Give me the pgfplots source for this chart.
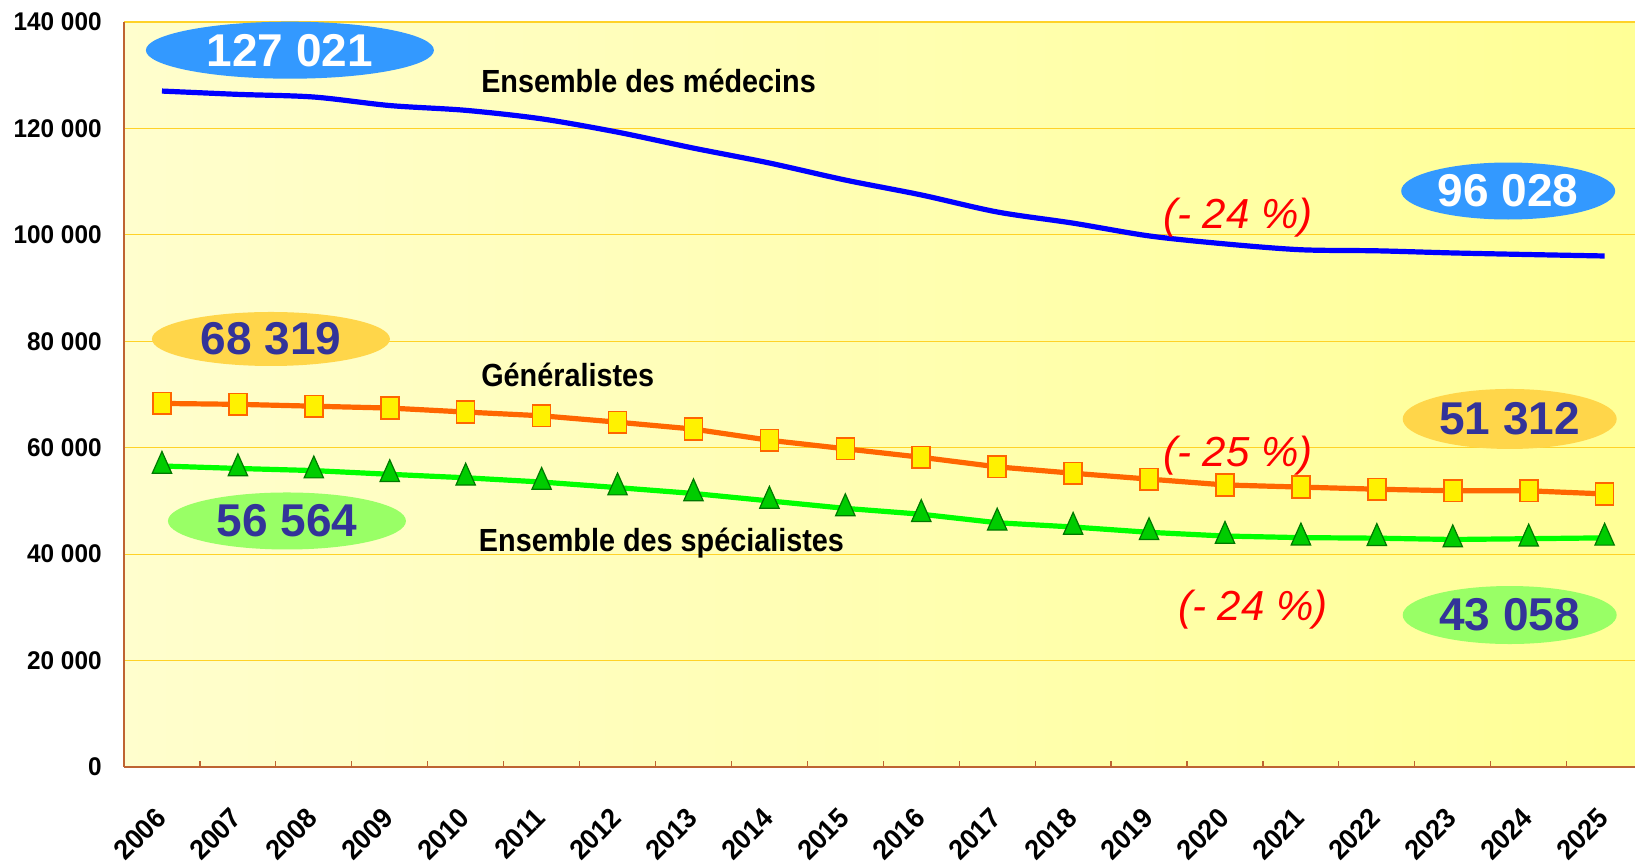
\documentclass[border=0pt]{standalone}
\usepackage{pgfplots}
\pgfplotsset{compat=1.18}
\usepackage{fontspec}
\setmainfont{Liberation Sans}
\newfontfamily\tickfont[FakeStretch=0.95]{Liberation Sans}
\newfontfamily\lblfont[FakeStretch=0.9]{Liberation Sans}
\usetikzlibrary{shapes.geometric}
\definecolor{bgL}{RGB}{255,254,205}
\definecolor{bgR}{RGB}{255,255,150}
\definecolor{gridcol}{RGB}{255,210,40}
\definecolor{axiscol}{RGB}{190,100,50}
\definecolor{linblue}{RGB}{0,0,255}
\definecolor{linorange}{RGB}{255,102,0}
\definecolor{lingreen}{RGB}{0,255,0}
\definecolor{trifill}{RGB}{0,204,0}
\definecolor{tridraw}{RGB}{0,120,0}
\definecolor{ellblue}{RGB}{51,153,255}
\definecolor{ellgold}{RGB}{255,214,74}
\definecolor{ellgreen}{RGB}{153,255,102}
\definecolor{numblue}{RGB}{51,51,153}
\begin{document}
\begin{tikzpicture}
\begin{axis}[
  scale only axis, width=755.5pt, height=372.5pt,
  xmin=-0.5, xmax=19.4, ymin=0, ymax=140000,
  clip=false,
  axis x line*=bottom, axis y line*=left,
  axis line style={draw=axiscol, line width=0.8pt},
  axis background/.style={shade, left color=bgL, right color=bgR},
  tick align=inside,
  xtick={0,1,...,19},
  xticklabels={2006,2007,2008,2009,2010,2011,2012,2013,2014,2015,2016,2017,2018,2019,2020,2021,2022,2023,2024,2025},
  major x tick style={draw=none},
  minor xtick={0.5,1.5,...,18.5},
  minor tick length=3pt,
  minor tick style={draw=axiscol, line width=0.6pt},
  ytick={0,20000,40000,60000,80000,100000,120000,140000},
  yticklabels={0,20~000,40~000,60~000,80~000,100~000,120~000,140~000},
  scaled y ticks=false,
  major y tick style={draw=none},
  ymajorgrids, grid style={draw=gridcol, line width=0.6pt},
  yticklabel style={inner sep=0pt, xshift=-11pt, font=\tickfont\bfseries\fontsize{12.8}{14}\selectfont},
  xticklabel style={inner sep=0pt, xshift=-0.5pt, yshift=-23pt, rotate=45, anchor=east, font=\tickfont\bfseries\fontsize{14}{16}\selectfont},
]
\coordinate (SW) at (rel axis cs:0,0);
\coordinate (NE) at (rel axis cs:1,1);

\addplot[color=linblue, line width=2.6pt, smooth, no markers] coordinates {
(0,127021) (1,126400) (2,125900) (3,124300) (4,123400) (5,121800) (6,119300) (7,116300) (8,113500) (9,110300)
(10,107500) (11,104300) (12,102200) (13,99800) (14,98300) (15,97200) (16,97000) (17,96600) (18,96300) (19,96028)};

\addplot[color=linorange, line width=2.6pt, mark=square*, mark size=4.5pt,
  mark options={fill=yellow, draw=linorange, line width=0.8pt, yscale=1.2}] coordinates {
(0,68319) (1,68150) (2,67800) (3,67450) (4,66700) (5,66000) (6,64800) (7,63500) (8,61400) (9,59800)
(10,58200) (11,56400) (12,55200) (13,54100) (14,53000) (15,52600) (16,52200) (17,51900) (18,51900) (19,51312)};

\addplot[color=lingreen, line width=2.6pt, mark=triangle*, mark size=5.6pt,
  mark options={fill=trifill, draw=tridraw, line width=0.6pt, yscale=1.3}] coordinates {
(0,56564) (1,56100) (2,55700) (3,55000) (4,54350) (5,53550) (6,52500) (7,51400) (8,50000) (9,48600)
(10,47500) (11,45900) (12,45100) (13,44100) (14,43400) (15,43100) (16,43000) (17,42750) (18,42900) (19,43058)};

% value ellipses
\node[ellipse, fill=ellblue, minimum width=144pt, minimum height=28.5pt, inner sep=0pt, text=white,
  font=\bfseries\fontsize{23}{25}\selectfont] at (axis cs:1.685,134700) {127 021};
\node[ellipse, fill=ellblue, minimum width=107pt, minimum height=28.5pt, inner sep=0pt, text=white,
  font=\bfseries\fontsize{23}{25}\selectfont] at (axis cs:17.73,108240) {96 028};
\node[ellipse, fill=ellgold, minimum width=119pt, minimum height=27pt, inner sep=0pt, text=numblue,
  font=\bfseries\fontsize{23}{25}\selectfont] at (axis cs:1.435,80430) {68 319};
\node[ellipse, fill=ellgold, minimum width=107pt, minimum height=30pt, inner sep=0pt, text=numblue,
  font=\bfseries\fontsize{23}{25}\selectfont] at (axis cs:17.75,65400) {51 312};
\node[ellipse, fill=ellgreen, minimum width=119pt, minimum height=28.5pt, inner sep=0pt, text=numblue,
  font=\bfseries\fontsize{23}{25}\selectfont] at (axis cs:1.646,46230) {56 564};
\node[ellipse, fill=ellgreen, minimum width=107pt, minimum height=29pt, inner sep=0pt, text=numblue,
  font=\bfseries\fontsize{23}{25}\selectfont] at (axis cs:17.75,28560) {43 058};

% series labels
\node[anchor=west, inner sep=0pt, font=\lblfont\bfseries\fontsize{16}{18}\selectfont] at (axis cs:4.20,128900) {Ensemble des médecins};
\node[anchor=west, inner sep=0pt, font=\lblfont\bfseries\fontsize{16}{18}\selectfont] at (axis cs:4.20,73660) {Généralistes};
\node[anchor=west, inner sep=0pt, font=\lblfont\bfseries\fontsize{16}{18}\selectfont] at (axis cs:4.17,42090) {Ensemble des spécialistes};

% percentage changes
\node[anchor=west, inner sep=0pt, text=red, font=\itshape\fontsize{21}{23}\selectfont] at (axis cs:13.18,103170) {(- 24 \%)};
\node[anchor=west, inner sep=0pt, text=red, font=\itshape\fontsize{21}{23}\selectfont] at (axis cs:13.18,58440) {(- 25 \%)};
\node[anchor=west, inner sep=0pt, text=red, font=\itshape\fontsize{21}{23}\selectfont] at (axis cs:13.38,29500) {(- 24 \%)};
\end{axis}
\pgfresetboundingbox
\path[use as bounding box] ([xshift=-62pt,yshift=-50pt]SW) rectangle ([yshift=11pt]NE);
\end{tikzpicture}
\end{document}
